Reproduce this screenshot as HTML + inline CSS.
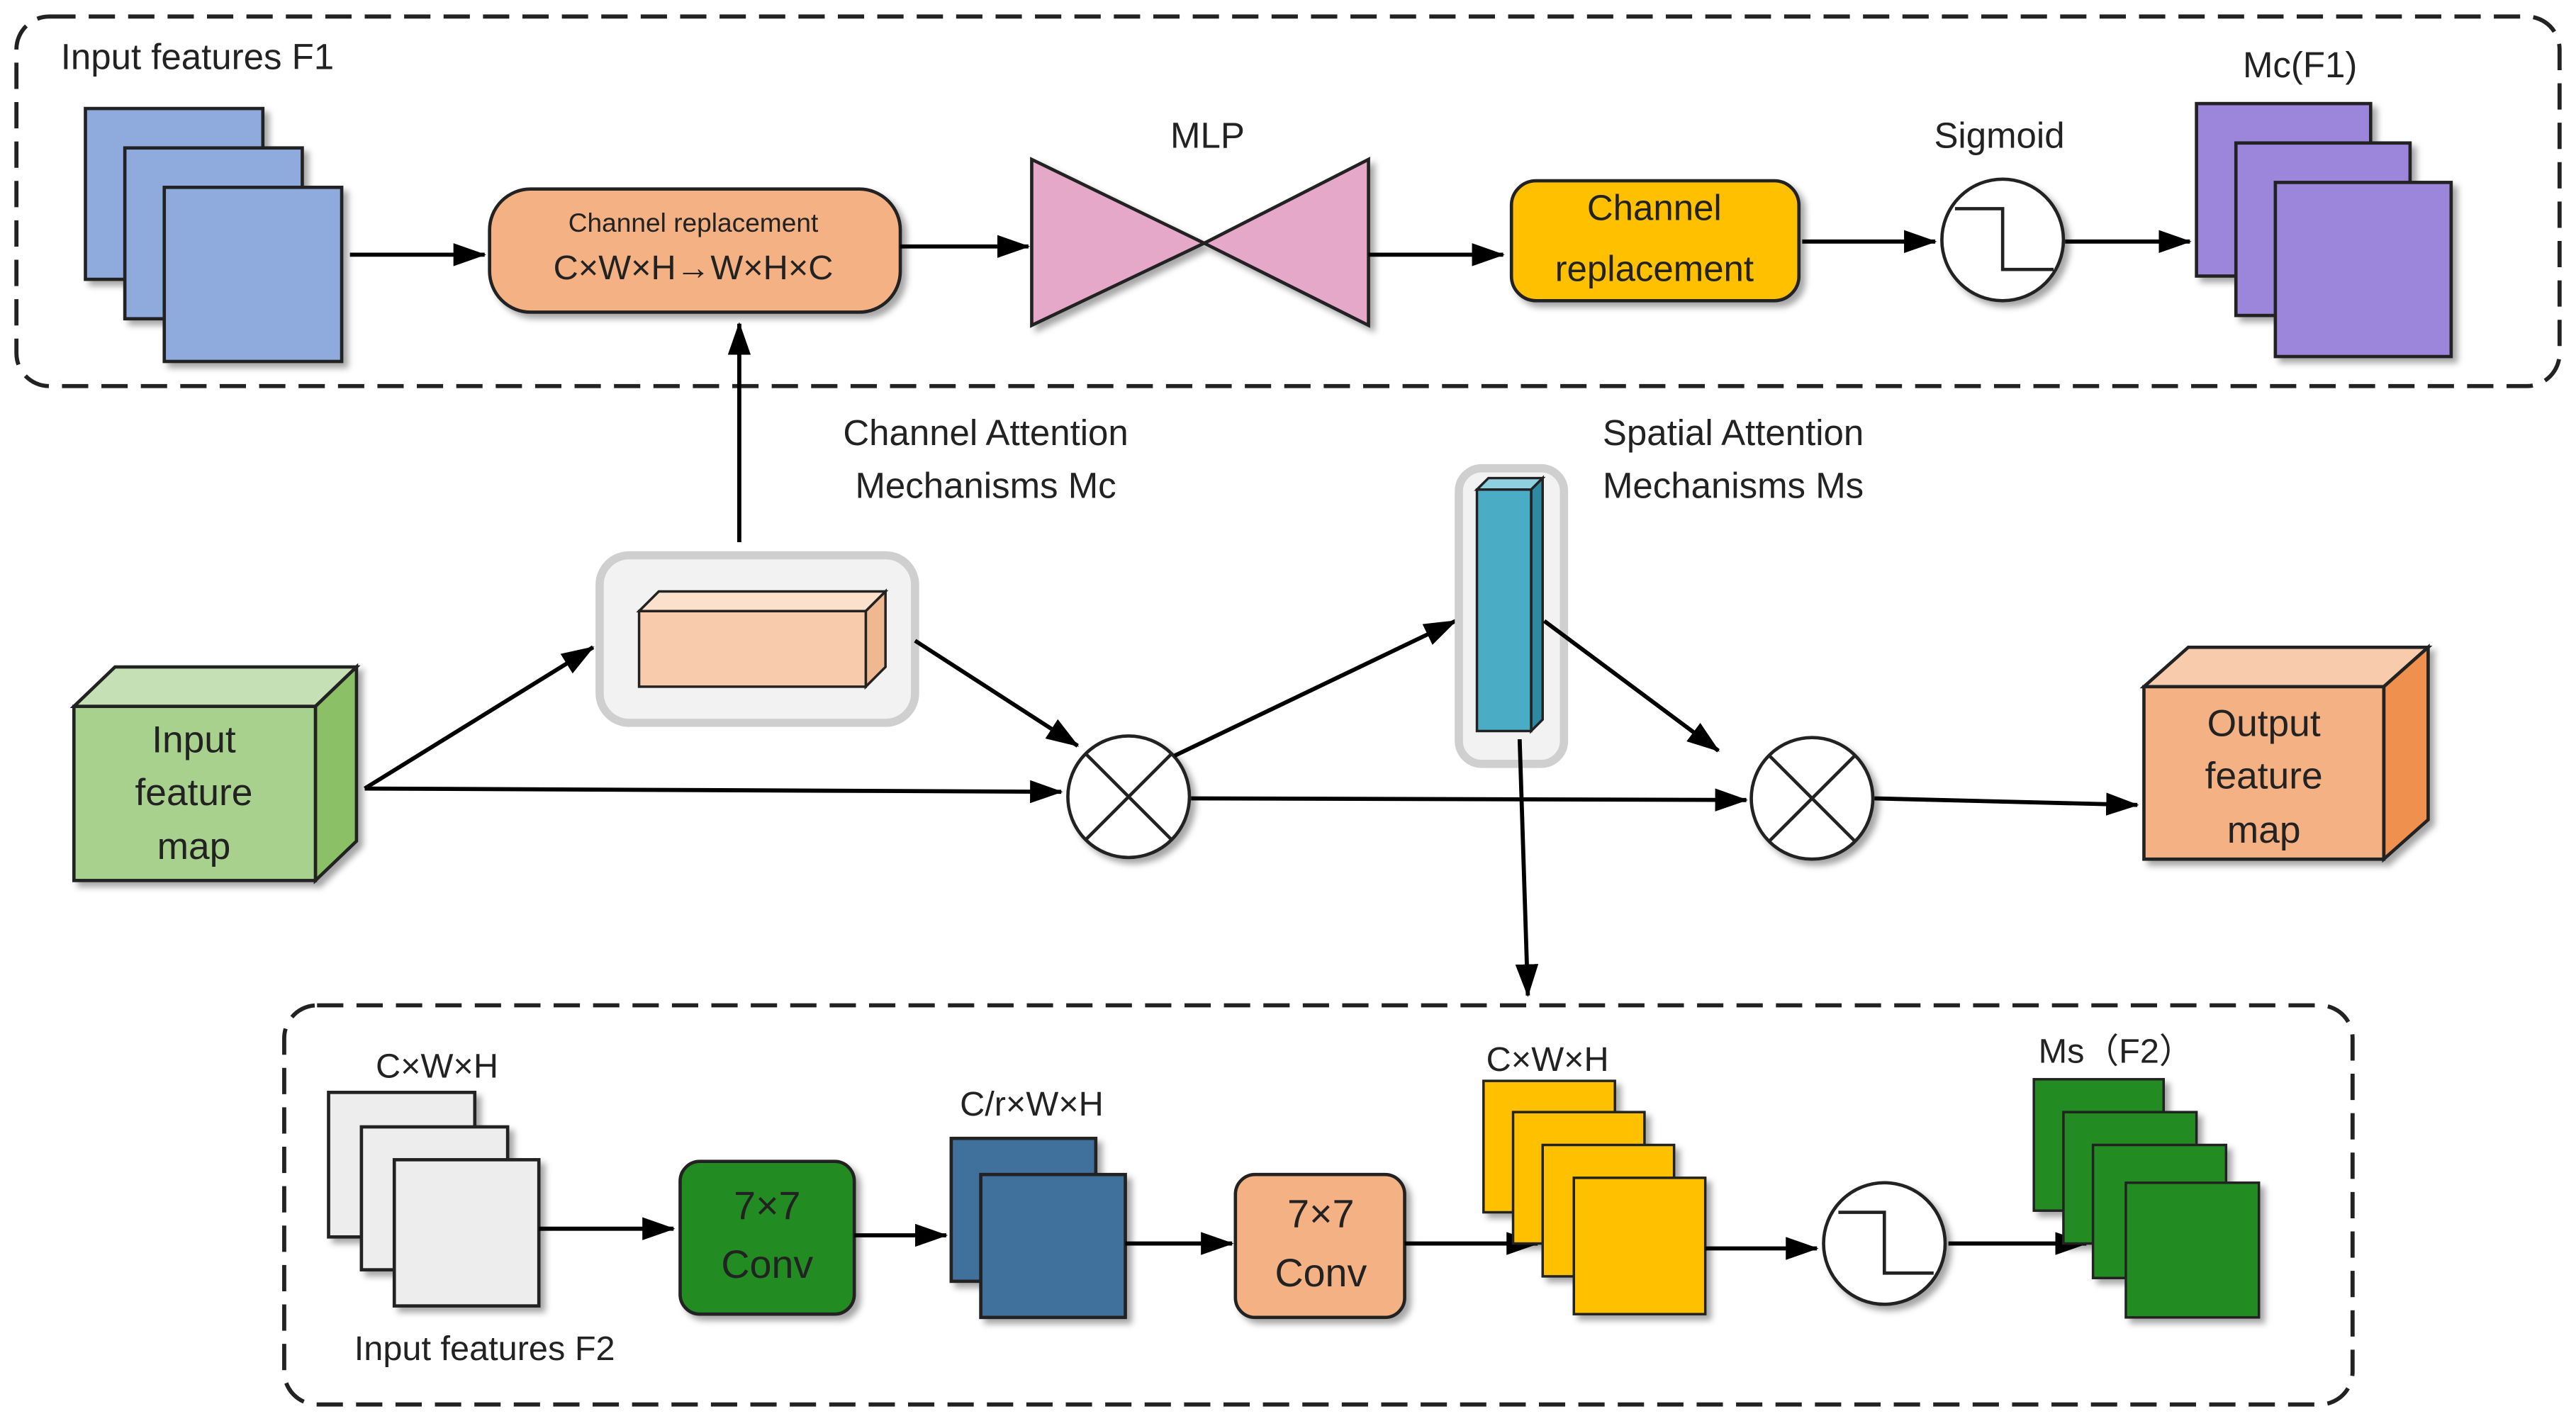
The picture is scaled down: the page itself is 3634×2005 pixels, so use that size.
<!DOCTYPE html>
<html><head><meta charset="utf-8"><style>
html,body{margin:0;padding:0;background:#fff;}
svg{display:block;}
text{font-family:"Liberation Sans","DejaVu Sans",sans-serif;fill:#222;}
</style></head><body>
<svg width="3634" height="2005" viewBox="0 0 1568 865" xmlns="http://www.w3.org/2000/svg">
<defs>
<marker id="a" markerWidth="20" markerHeight="14" refX="19" refY="7" orient="auto" markerUnits="userSpaceOnUse" viewBox="0 0 20 14">
<path d="M0,0 L20,7 L0,14 z" fill="#000"/></marker>
<filter id="sh" x="-20%" y="-20%" width="150%" height="150%"><feDropShadow dx="3" dy="3" stdDeviation="2" flood-color="#000" flood-opacity="0.35"/></filter>
</defs>
<style>.ar{stroke:#000;stroke-width:2.5;fill:none;}</style>
<!-- top dashed box -->
<rect x="10" y="10" width="1548" height="225" rx="20" fill="none" stroke="#222" stroke-width="2.5" stroke-dasharray="16,8"/>
<text x="37" y="42" font-size="22">Input features F1</text>
<g stroke="#222" stroke-width="2" fill="#8FAADC" filter="url(#sh)">
<rect x="52" y="66" width="108" height="104"/><rect x="76" y="90" width="108" height="104"/><rect x="100" y="114" width="108" height="106"/></g>
<line class="ar" x1="213" y1="155" x2="295" y2="155" marker-end="url(#a)"/>
<rect x="298" y="115" width="250" height="75" rx="25" fill="#F4B183" stroke="#222" stroke-width="2" filter="url(#sh)"/>
<text x="422" y="141" font-size="16" text-anchor="middle">Channel replacement</text>
<text x="422" y="170" font-size="21" text-anchor="middle">C×W×H→W×H×C</text>
<line class="ar" x1="548" y1="150" x2="626" y2="150" marker-end="url(#a)"/>
<g fill="#E6A8C8" stroke="#222" stroke-width="2" filter="url(#sh)">
<polygon points="628,97 628,198 733,148"/><polygon points="833,97 833,198 733,148"/></g>
<text x="735" y="90" font-size="22" text-anchor="middle">MLP</text>
<line class="ar" x1="833" y1="155" x2="915" y2="155" marker-end="url(#a)"/>
<rect x="920" y="110" width="175" height="73" rx="15" fill="#FFC000" stroke="#222" stroke-width="2" filter="url(#sh)"/>
<text x="1007" y="134" font-size="22" text-anchor="middle">Channel</text>
<text x="1007" y="171" font-size="22" text-anchor="middle">replacement</text>
<line class="ar" x1="1097" y1="147" x2="1178" y2="147" marker-end="url(#a)"/>
<circle cx="1219" cy="146" r="37" fill="#fff" stroke="#222" stroke-width="2" filter="url(#sh)"/>
<path d="M1190,127 H1219 V164 H1250" fill="none" stroke="#222" stroke-width="2"/>
<text x="1217" y="90" font-size="22" text-anchor="middle">Sigmoid</text>
<line class="ar" x1="1257" y1="147" x2="1333" y2="147" marker-end="url(#a)"/>
<g stroke="#222" stroke-width="2" fill="#9B86DC" filter="url(#sh)">
<rect x="1337" y="63" width="106" height="105"/><rect x="1361" y="87" width="106" height="105"/><rect x="1385" y="111" width="107" height="106"/></g>
<text x="1400" y="47" font-size="22" text-anchor="middle">Mc(F1)</text>

<line class="ar" x1="450" y1="330" x2="450" y2="197" marker-end="url(#a)"/>
<text x="600" y="271" font-size="22" text-anchor="middle">Channel Attention</text>
<text x="600" y="303" font-size="22" text-anchor="middle">Mechanisms Mc</text>
<text x="1055" y="271" font-size="22" text-anchor="middle">Spatial Attention</text>
<text x="1055" y="303" font-size="22" text-anchor="middle">Mechanisms Ms</text>

<rect x="365" y="338" width="192" height="102" rx="18" fill="#F2F2F2" stroke="#CFCFCF" stroke-width="5"/>
<g stroke="#222" stroke-width="1.5">
<polygon points="389,372 401,360 539,360 527,372" fill="#FBE0CC"/>
<polygon points="527,372 539,360 539,406 527,418" fill="#F0B890"/>
<rect x="389" y="372" width="138" height="46" fill="#F8CBAD"/></g>

<g stroke="#222" stroke-width="2" filter="url(#sh)">
<polygon points="45,430 70,406 217,406 192,430" fill="#C5E0B4"/>
<polygon points="192,430 217,406 217,512 192,536" fill="#8CC066"/>
<rect x="45" y="430" width="147" height="106" fill="#A9D18E"/></g>
<text x="118" y="458" font-size="23" text-anchor="middle">Input</text>
<text x="118" y="490" font-size="23" text-anchor="middle">feature</text>
<text x="118" y="523" font-size="23" text-anchor="middle">map</text>

<line class="ar" x1="222" y1="480" x2="361" y2="394" marker-end="url(#a)"/>
<line class="ar" x1="222" y1="480" x2="646" y2="482" marker-end="url(#a)"/>
<line class="ar" x1="557" y1="390" x2="656" y2="454" marker-end="url(#a)"/>
<circle cx="687" cy="485" r="37" fill="#fff" stroke="#222" stroke-width="2" filter="url(#sh)"/>
<path d="M661,459 L713,511 M713,459 L661,511" stroke="#222" stroke-width="2"/>
<line class="ar" x1="715" y1="460" x2="886" y2="378" marker-end="url(#a)"/>
<line class="ar" x1="725" y1="486" x2="1063" y2="487" marker-end="url(#a)"/>

<rect x="888" y="285" width="64" height="180" rx="14" fill="#F2F2F2" stroke="#CFCFCF" stroke-width="5"/>
<g stroke="#222" stroke-width="1.5">
<polygon points="899,298 906,291 939,291 932,298" fill="#8FD0E0"/>
<polygon points="932,298 939,291 939,438 932,445" fill="#2E8AA3"/>
<rect x="899" y="298" width="33" height="147" fill="#4BACC6"/></g>
<line class="ar" x1="940" y1="378" x2="1046" y2="457" marker-end="url(#a)"/>
<line class="ar" x1="925" y1="450" x2="930" y2="606" marker-end="url(#a)"/>
<circle cx="1103" cy="486" r="37" fill="#fff" stroke="#222" stroke-width="2" filter="url(#sh)"/>
<path d="M1077,460 L1129,512 M1129,460 L1077,512" stroke="#222" stroke-width="2"/>
<line class="ar" x1="1141" y1="486" x2="1301" y2="490" marker-end="url(#a)"/>

<g stroke="#222" stroke-width="2" filter="url(#sh)">
<polygon points="1305,418 1332,394 1478,394 1451,418" fill="#F8CBAD"/>
<polygon points="1451,418 1478,394 1478,499 1451,523" fill="#F0904F"/>
<rect x="1305" y="418" width="146" height="105" fill="#F4B183"/></g>
<text x="1378" y="448" font-size="23" text-anchor="middle">Output</text>
<text x="1378" y="480" font-size="23" text-anchor="middle">feature</text>
<text x="1378" y="513" font-size="23" text-anchor="middle">map</text>

<rect x="173" y="612" width="1259" height="243" rx="20" fill="none" stroke="#222" stroke-width="2.5" stroke-dasharray="16,8"/>
<text x="266" y="656" font-size="21" text-anchor="middle">C×W×H</text>
<g stroke="#222" stroke-width="2" fill="#EDEDED" filter="url(#sh)">
<rect x="200" y="665" width="89" height="88"/><rect x="220" y="686" width="89" height="87"/><rect x="240" y="706" width="88" height="89"/></g>
<text x="295" y="828" font-size="21" text-anchor="middle">Input features F2</text>
<line class="ar" x1="328" y1="748" x2="410" y2="748" marker-end="url(#a)"/>
<rect x="414" y="707" width="106" height="93" rx="12" fill="#228B22" stroke="#222" stroke-width="2" filter="url(#sh)"/>
<text x="467" y="742" font-size="24" text-anchor="middle">7×7</text>
<text x="467" y="778" font-size="24" text-anchor="middle">Conv</text>
<line class="ar" x1="520" y1="752" x2="576" y2="752" marker-end="url(#a)"/>
<g stroke="#222" stroke-width="2" fill="#41719C" filter="url(#sh)">
<rect x="579" y="693" width="88" height="87"/><rect x="597" y="715" width="88" height="87"/></g>
<text x="628" y="679" font-size="21" text-anchor="middle">C/r×W×H</text>
<line class="ar" x1="685" y1="757" x2="750" y2="757" marker-end="url(#a)"/>
<rect x="752" y="715" width="103" height="87" rx="12" fill="#F4B183" stroke="#222" stroke-width="2" filter="url(#sh)"/>
<text x="804" y="747" font-size="24" text-anchor="middle">7×7</text>
<text x="804" y="783" font-size="24" text-anchor="middle">Conv</text>
<line class="ar" x1="855" y1="757" x2="936" y2="757" marker-end="url(#a)"/>
<g stroke="#222" stroke-width="1.5" fill="#FFC000" filter="url(#sh)">
<rect x="903" y="658" width="80" height="80"/><rect x="921" y="677" width="80" height="80"/><rect x="939" y="697" width="80" height="80"/><rect x="958" y="717" width="80" height="83"/></g>
<text x="942" y="652" font-size="21" text-anchor="middle">C×W×H</text>
<line class="ar" x1="1038" y1="760" x2="1106" y2="760" marker-end="url(#a)"/>
<circle cx="1147" cy="757" r="37" fill="#fff" stroke="#222" stroke-width="2" filter="url(#sh)"/>
<path d="M1119,738 H1147 V775 H1177" fill="none" stroke="#222" stroke-width="2"/>
<line class="ar" x1="1186" y1="757" x2="1270" y2="757" marker-end="url(#a)"/>
<g stroke="#222" stroke-width="1.5" fill="#228B22" filter="url(#sh)">
<rect x="1238" y="657" width="79" height="80"/><rect x="1256" y="677" width="81" height="80"/><rect x="1274" y="697" width="81" height="81"/><rect x="1294" y="720" width="81" height="82"/></g>
<text x="1288" y="647" font-size="21" text-anchor="middle">Ms（F2）</text>
</svg>
</body></html>
